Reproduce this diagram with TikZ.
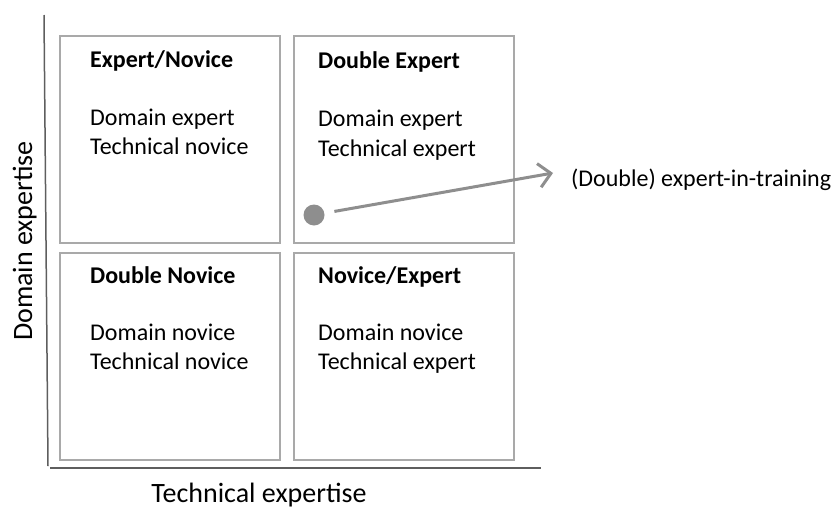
\documentclass[tikz,border=0pt]{standalone}
\usepackage{fontspec}
\setmainfont{Carlito}
\usetikzlibrary{arrows.meta}
\definecolor{boxgray}{HTML}{A9A9A9}
\definecolor{axisgray}{HTML}{5E5E5E}
\definecolor{markgray}{HTML}{8E8E8E}
\begin{document}
\begin{tikzpicture}[x=1pt,y=-1pt,
  cell/.style={draw=boxgray,line width=1.6pt,minimum width=220pt,minimum height=207pt,
    inner sep=0pt,anchor=north west},
  txt/.style={anchor=base west,inner sep=0pt,font=\fontsize{24}{28}\selectfont},
  head/.style={txt,font=\fontsize{24}{28}\selectfont\bfseries},
  axislabel/.style={inner sep=0pt,font=\fontsize{28}{33}\selectfont},
  axisline/.style={draw=axisgray,line width=1.5pt},
  pointer/.style={draw=markgray,line width=3pt,-{Straight Barb[length=12pt,width=24pt,line width=3pt]}}]
\useasboundingbox (0,0) rectangle (832,509);

% axes
\coordinate (ytop) at (44,15);
\coordinate (origin) at (48,468);
\coordinate (xend) at (541,468);
\draw[axisline] (ytop) -- (origin |- 0,466);
\draw[axisline] (50,468) -- (xend);
\node[axislabel,anchor=base] (xlab) at (259,502) {Technical expertise};
\node[axislabel,anchor=base,rotate=90] (ylab) at (32,241) {Domain expertise};

% quadrants
\node[cell] (tl) at (59,35) {};
\node[cell] (tr) at (293,35) {};
\node[cell] (bl) at (59,252) {};
\node[cell] (br) at (293,252) {};

% top-left
\node[head] (tlh) at (90,67) {Expert/Novice};
\node[txt] (tl1) at (90,125) {Domain expert};
\node[txt] (tl2) at (90,154) {Technical novice};
% top-right
\node[head] (trh) at (318,68) {Double Expert};
\node[txt] (tr1) at (318,126) {Domain expert};
\node[txt] (tr2) at (318,156) {Technical expert};
% bottom-left
\node[head] (blh) at (90,283) {Double Novice};
\node[txt] (bl1) at (90,340) {Domain novice};
\node[txt] (bl2) at (90,369) {Technical novice};
% bottom-right
\node[head] (brh) at (318,283) {Novice/Expert};
\node[txt] (br1) at (318,340) {Domain novice};
\node[txt] (br2) at (318,369) {Technical expert};

% trainee marker and pointer
\node[circle,fill=markgray,minimum size=21pt,inner sep=0pt] (dot) at (314,215) {};
\coordinate (tip) at (553,173);
\draw[pointer,shorten <=10pt] (dot) -- (tip);
\node[txt] (lbl) at (571,186) {(Double) expert-in-training};
\end{tikzpicture}
\end{document}
